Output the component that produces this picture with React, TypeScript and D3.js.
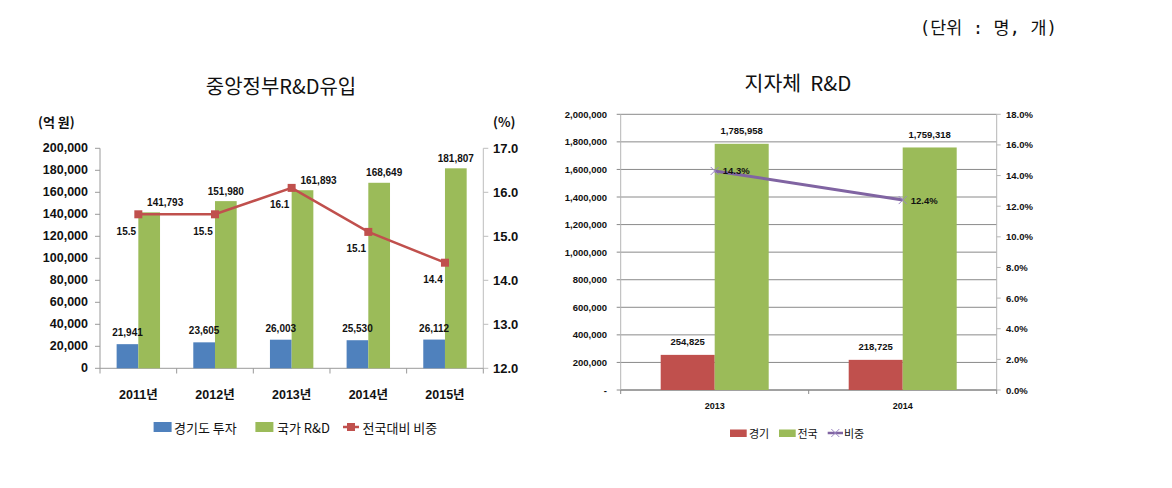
import React from 'react';
import * as d3 from 'd3';

// ---------- Data: 중앙정부R&D유입 ----------
const years = ['2011년', '2012년', '2013년', '2014년', '2015년'];
const gyeonggiInvest = [21941, 23605, 26003, 25530, 26112];
const nationalRnD = [141793, 151980, 161893, 168649, 181807];
const shareRatio = [15.5, 15.5, 16.1, 15.1, 14.4];
const leftAxisTicks = [0, 20000, 40000, 60000, 80000, 100000, 120000, 140000, 160000, 180000, 200000];
const rightAxisTicks = [12, 13, 14, 15, 16, 17];
const legend1 = ['경기도 투자', '국가 R&D', '전국대비 비중'];

// ---------- Data: 지자체 R&D ----------
const localYears = ['2013', '2014'];
const localGyeonggi = [254825, 218725];
const localNational = [1785958, 1759318];
const localShare = [14.3, 12.4];
const local2Ticks = [0, 200000, 400000, 600000, 800000, 1000000, 1200000, 1400000, 1600000, 1800000, 2000000];
const local2RightTicks = [0, 2, 4, 6, 8, 10, 12, 14, 16, 18];
const legend2 = ['경기', '전국', '비중'];

// label nudges seen in the original (manual placement)
const greenLabelNudge = [16, 0, 16, 5, 0];

const BLUE = '#4F81BD';
const GREEN = '#9BBB59';
const RED = '#C0504D';
const PURPLE = '#8064A2';
const NUM = "'Liberation Sans', Arial, sans-serif";
const KR = "'Noto Sans CJK KR', 'Noto Sans', sans-serif";
const fmt = d3.format(',');

function LeftChart() {
  const x = d3.scaleBand<string>().domain(years).range([100, 483.3]);
  const y = d3.scaleLinear().domain([0, 200000]).range([368.3, 148.3]);
  const yR = d3.scaleLinear().domain([12, 17]).range([368.3, 148.3]);
  const bw = 21.7;
  const cx = (i: number) => (x(years[i]) as number) + x.bandwidth() / 2;
  const line = d3
    .line<number>()
    .x((_, i) => cx(i))
    .y((d) => yR(d));
  const boundaries = [...years.map((c) => x(c) as number), x.range()[1]];
  return (
    <g>
      <text x={281} y={85} textAnchor="middle" dominantBaseline="central" fontFamily={KR} fontSize={20} fill="#111">
        중앙정부R&D유입
      </text>
      <text x={38} y={121.7} dominantBaseline="central" fontFamily={KR} fontSize={13} fontWeight="bold" fill="#111">
        (억 원)
      </text>
      <text x={493} y={121.7} dominantBaseline="central" fontFamily={KR} fontSize={13} fontWeight="bold" fill="#111">
        (%)
      </text>
      {/* axes */}
      <line x1={100} x2={100} y1={148.3} y2={368.3} stroke="#9a9a9a" />
      <line x1={483.3} x2={483.3} y1={148.3} y2={368.3} stroke="#bdbdbd" />
      <line x1={100} x2={483.3} y1={368.3} y2={368.3} stroke="#9a9a9a" />
      {leftAxisTicks.map((t) => (
        <g key={'lt' + t}>
          <line x1={95} x2={100} y1={y(t)} y2={y(t)} stroke="#9a9a9a" />
          <text x={88} y={y(t)} textAnchor="end" dominantBaseline="central" fontFamily={NUM} fontSize={12.5} fontWeight="bold" fill="#111">
            {fmt(t)}
          </text>
        </g>
      ))}
      {rightAxisTicks.map((t) => (
        <g key={'rt' + t}>
          <line x1={483.3} x2={488.3} y1={yR(t)} y2={yR(t)} stroke="#bdbdbd" />
          <text x={493} y={yR(t)} dominantBaseline="central" fontFamily={NUM} fontSize={13} fontWeight="bold" fill="#111">
            {t.toFixed(1)}
          </text>
        </g>
      ))}
      {boundaries.map((b, i) => (
        <line key={'bt' + i} x1={b} x2={b} y1={368.3} y2={373.5} stroke="#9a9a9a" />
      ))}
      {years.map((c, i) => (
        <text key={'xl' + c} x={cx(i)} y={395} textAnchor="middle" dominantBaseline="central" fontFamily={NUM + ", 'Noto Sans CJK KR'"} fontSize={12.5} fontWeight="bold" fill="#111">
          {c}
        </text>
      ))}
      {/* bars */}
      {gyeonggiInvest.map((v, i) => (
        <rect key={'b' + i} x={cx(i) - bw} y={y(v)} width={bw} height={y(0) - y(v)} fill={BLUE} />
      ))}
      {nationalRnD.map((v, i) => (
        <rect key={'g' + i} x={cx(i)} y={y(v)} width={bw} height={y(0) - y(v)} fill={GREEN} />
      ))}
      {gyeonggiInvest.map((v, i) => (
        <text key={'bl' + i} x={cx(i) - bw / 2} y={y(v) - 11.5} textAnchor="middle" dominantBaseline="central" fontFamily={NUM} fontSize={10} fontWeight="bold" fill="#111">
          {fmt(v)}
        </text>
      ))}
      {nationalRnD.map((v, i) => (
        <text key={'gl' + i} x={cx(i) + bw / 2 + greenLabelNudge[i]} y={y(v) - 10} textAnchor="middle" dominantBaseline="central" fontFamily={NUM} fontSize={10} fontWeight="bold" fill="#111">
          {fmt(v)}
        </text>
      ))}
      {/* line */}
      <path d={line(shareRatio) as string} fill="none" stroke={RED} strokeWidth={2.5} />
      {shareRatio.map((v, i) => (
        <rect key={'m' + i} x={cx(i) - 4} y={yR(v) - 4} width={8} height={8} fill={RED} />
      ))}
      {shareRatio.map((v, i) => (
        <text key={'ml' + i} x={cx(i) - 12} y={yR(v) + 17} textAnchor="middle" dominantBaseline="central" fontFamily={NUM} fontSize={10} fontWeight="bold" fill="#111">
          {v.toFixed(1)}
        </text>
      ))}
      {/* legend */}
      <rect x={153.6} y={422} width={18} height={10} fill={BLUE} />
      <text x={174} y={427} dominantBaseline="central" fontFamily={KR} fontSize={13} fill="#111">{legend1[0]}</text>
      <rect x={255.4} y={422} width={18} height={10} fill={GREEN} />
      <text x={277} y={427} dominantBaseline="central" fontFamily={KR} fontSize={13} fill="#111">{legend1[1]}</text>
      <line x1={343} x2={359} y1={427} y2={427} stroke={RED} strokeWidth={2.5} />
      <rect x={347} y={423} width={8} height={8} fill={RED} />
      <text x={362.5} y={427} dominantBaseline="central" fontFamily={KR} fontSize={13} fill="#111">{legend1[2]}</text>
    </g>
  );
}

function RightChart() {
  const x = d3.scaleBand<string>().domain(localYears).range([620.7, 996.7]);
  const y = d3.scaleLinear().domain([0, 2000000]).range([390, 114.3]);
  const yR = d3.scaleLinear().domain([0, 18]).range([390, 114.3]);
  const bw = 54;
  const cx = (i: number) => (x(localYears[i]) as number) + x.bandwidth() / 2;
  const line = d3
    .line<number>()
    .x((_, i) => cx(i))
    .y((d) => yR(d));
  const boundaries = [...localYears.map((c) => x(c) as number), x.range()[1]];
  const cross = (px: number, py: number, k: string) => (
    <g key={k} stroke="#9b86c2" strokeWidth={1}>
      <line x1={px - 4} x2={px + 4} y1={py - 4} y2={py + 4} />
      <line x1={px - 4} x2={px + 4} y1={py + 4} y2={py - 4} />
    </g>
  );
  return (
    <g>
      <text x={798} y={82} textAnchor="middle" dominantBaseline="central" fontFamily={KR} fontSize={20.5} fill="#111" style={{ whiteSpace: 'pre' }}>
        {'지자체  R&D'}
      </text>
      {local2Ticks.map((t) => (
        <g key={'gt' + t}>
          <line x1={616.7} x2={996.7} y1={y(t)} y2={y(t)} stroke="#8a8a8a" />
          <text x={607} y={y(t)} textAnchor="end" dominantBaseline="central" fontFamily={NUM} fontSize={9.5} fontWeight="bold" fill="#111">
            {t === 0 ? '-' : fmt(t)}
          </text>
        </g>
      ))}
      <line x1={620.7} x2={620.7} y1={114.3} y2={390} stroke="#b5b5b5" />
      <line x1={996.7} x2={996.7} y1={114.3} y2={390} stroke="#b5b5b5" />
      {local2RightTicks.map((t) => (
        <g key={'rt' + t}>
          <line x1={996.7} x2={1000.7} y1={yR(t)} y2={yR(t)} stroke="#b5b5b5" />
          <text x={1006} y={yR(t)} dominantBaseline="central" fontFamily={NUM} fontSize={9.5} fontWeight="bold" fill="#111">
            {t.toFixed(1) + '%'}
          </text>
        </g>
      ))}
      <line x1={620.7} x2={996.7} y1={390} y2={390} stroke="#7f7f7f" />
      {boundaries.map((b, i) => (
        <line key={'bt' + i} x1={b} x2={b} y1={390} y2={394} stroke="#8a8a8a" />
      ))}
      {localYears.map((c, i) => (
        <text key={'xl' + c} x={cx(i)} y={406} textAnchor="middle" dominantBaseline="central" fontFamily={NUM} fontSize={9} fontWeight="bold" fill="#111">
          {c}
        </text>
      ))}
      {localGyeonggi.map((v, i) => (
        <rect key={'r' + i} x={cx(i) - bw} y={y(v)} width={bw} height={y(0) - y(v)} fill={RED} />
      ))}
      {localNational.map((v, i) => (
        <rect key={'g' + i} x={cx(i)} y={y(v)} width={bw} height={y(0) - y(v)} fill={GREEN} />
      ))}
      {localGyeonggi.map((v, i) => (
        <text key={'rl' + i} x={cx(i) - bw / 2} y={y(v) - 13} textAnchor="middle" dominantBaseline="central" fontFamily={NUM} fontSize={9.5} fontWeight="bold" fill="#111">
          {fmt(v)}
        </text>
      ))}
      {localNational.map((v, i) => (
        <text key={'gl' + i} x={cx(i) + bw / 2} y={y(v) - 13} textAnchor="middle" dominantBaseline="central" fontFamily={NUM} fontSize={9.5} fontWeight="bold" fill="#111">
          {fmt(v)}
        </text>
      ))}
      <path d={line(localShare) as string} fill="none" stroke={PURPLE} strokeWidth={3} />
      {localShare.map((v, i) => cross(cx(i), yR(v), 'c' + i))}
      {localShare.map((v, i) => (
        <text key={'sl' + i} x={cx(i) + 8} y={yR(v)} dominantBaseline="central" fontFamily={NUM} fontSize={9.5} fontWeight="bold" fill="#111">
          {v.toFixed(1) + '%'}
        </text>
      ))}
      {/* legend */}
      <rect x={730} y={429.5} width={16.7} height={7.5} fill={RED} />
      <text x={749} y={433} dominantBaseline="central" fontFamily={KR} fontSize={11} fill="#111">{legend2[0]}</text>
      <rect x={779} y={429.5} width={16.7} height={7.5} fill={GREEN} />
      <text x={797.5} y={433} dominantBaseline="central" fontFamily={KR} fontSize={11} fill="#111">{legend2[1]}</text>
      <line x1={827.7} x2={843} y1={433} y2={433} stroke={PURPLE} strokeWidth={2.5} />
      {cross(835.3, 433, 'lc')}
      <text x={844} y={433} dominantBaseline="central" fontFamily={KR} fontSize={11} fill="#111">{legend2[2]}</text>
    </g>
  );
}

export default function App() {
  return (
    <svg
      width={1172}
      height={488}
      viewBox="0 0 1172 488"
      style={{ position: 'absolute', left: 0, top: 0, background: '#fff' }}
    >
      <rect width={1172} height={488} fill="#fff" />
      <text x={1057} y={28} textAnchor="end" dominantBaseline="central" fontFamily="'DejaVu Sans Mono', 'Noto Sans CJK KR', monospace" fontSize={17.4} fill="#111" style={{ whiteSpace: 'pre' }}>
        {'(단위 : 명, 개)'}
      </text>
      <LeftChart />
      <RightChart />
    </svg>
  );
}
